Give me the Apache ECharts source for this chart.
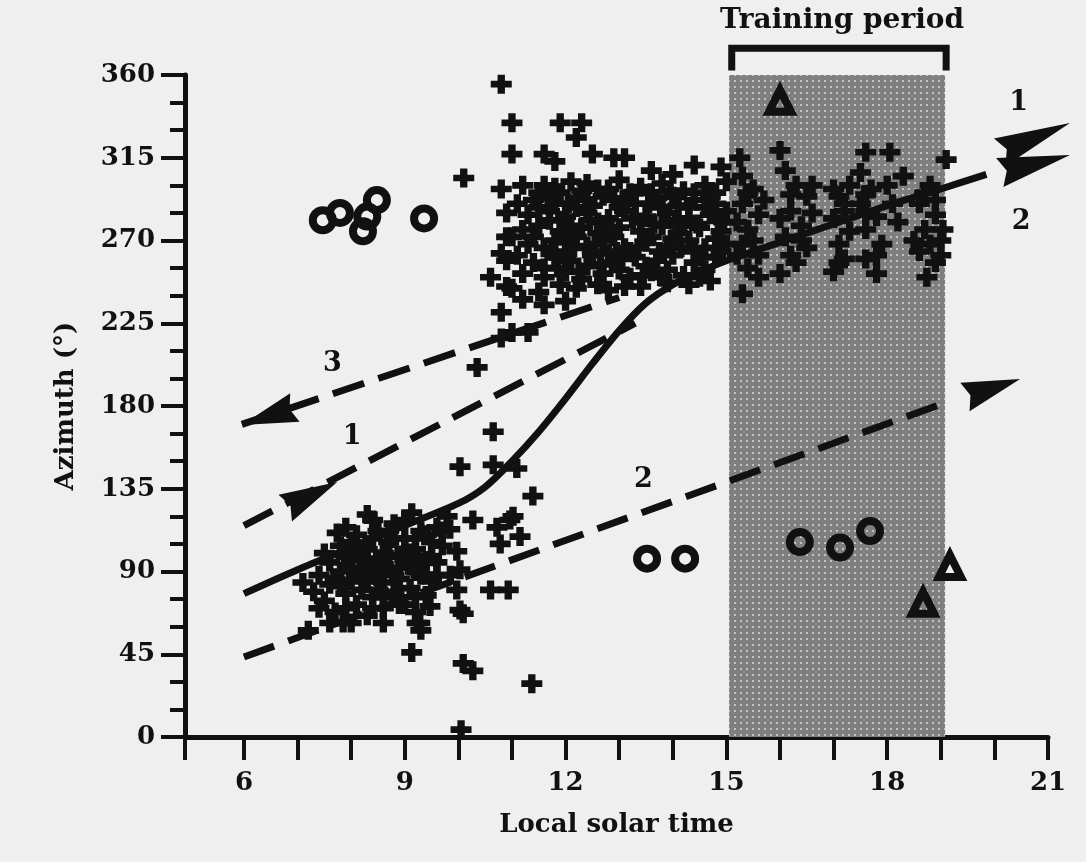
<!DOCTYPE html>
<html>
<head>
<meta charset="utf-8">
<script src="https://cdn.jsdelivr.net/npm/echarts@6/dist/echarts.min.js"></script>
<style>html,body{margin:0;padding:0;background:#efefef;}#c{width:1086px;height:862px;}</style>
</head>
<body>
<div id="c"></div>
<script>
// ---------- data ----------
const xLabelValues = [6, 9, 12, 15, 18, 21];
const xTickValues = [4.9, 6, 7, 8, 9, 10, 11, 12, 13, 14, 15, 16, 17, 18, 19, 20, 21];
const trainingPeriod = [15.05, 19.08];
const bracketLine = [[15.1, 362.5], [15.1, 374.5], [19.1, 374.5], [19.1, 362.5]];

const crosses = [
  // morning cluster
  [7.1,84],[7.3,79],[7.4,88],[7.5,74],[7.6,95],[7.6,83],[7.7,68],[7.8,104],[7.8,90],[7.9,78],
  [8.0,97],[8.0,85],[8.1,110],[8.1,72],[8.2,92],[8.2,80],[8.3,102],[8.3,66],[8.4,88],[8.4,76],
  [8.5,112],[8.5,97],[8.6,84],[8.6,70],[8.7,106],[8.7,92],[8.8,79],[8.8,116],[8.9,99],[8.9,86],
  [9.0,72],[9.0,108],[9.1,93],[9.1,81],[9.2,102],[9.2,68],[9.3,112],[9.3,88],[9.4,96],[9.4,77],
  [9.5,106],[9.5,85],[9.6,95],[9.6,114],[9.0,118],[8.4,118],[7.9,114],[7.5,100],[8.6,62],[8.0,62],
  [9.3,58],[7.6,62],[8.3,121],[9.13,122],[7.74,111],[7.85,62],[7.2,58],[9.13,46],[9.23,62],
  [7.7,86],[7.9,98],[8.1,88],[8.3,95],[8.5,90],[8.5,80],[8.7,98],[8.9,92],[9.1,100],[9.3,95],
  [9.2,108],[9.0,102],[8.8,108],[8.6,100],[8.3,86],[8.1,100],[9.4,110],[9.5,98],[8.9,72],[9.2,76],
  [8.4,70],[7.9,70],[7.4,70],[9.6,88],[9.7,112],[8.7,112],[8.0,106],
  [8.6,94],[8.8,88],[9.0,96],[8.2,96],[8.4,108],[9.2,90],[8.0,92],[7.8,82],[8.6,76],[9.4,88],
  [10.09,67],[10.27,36],[10.09,40],[11.37,29],[10.05,4],[10.03,147],[10.65,166],[10.65,148],
  [11.09,146],[11.39,131],[9.84,113],[10.72,114],[11.02,120],[11.15,109],[10.78,105],[9.97,101],
  [10.03,91],[9.97,80],[10.6,80],[10.93,80],[10.03,69],[9.79,120],[10.27,118],[9.28,62],[8.85,76],
  [9.47,71],[10.96,118],[9.7,104],[9.85,88],
  // transition
  [10.35,201],[10.8,231],[11.0,220],[11.3,220],[10.8,217],
  // midday cluster
  [11.6,300],[12.1,302],[12.6,298],[13.0,303],[13.4,299],[13.8,301],[14.2,297],[14.6,300],[15.0,302],
  [11.4,292],[11.8,290],[12.2,293],[12.5,289],[12.9,292],[13.3,290],[13.7,293],[14.1,289],[14.4,292],[14.8,290],
  [11.3,284],[11.7,286],[12.0,283],[12.4,285],[12.8,282],[13.1,286],[13.5,283],[13.9,285],[14.3,282],[14.7,284],[15.0,286],
  [11.2,276],[11.5,278],[11.9,275],[12.3,277],[12.6,274],[13.0,277],[13.4,275],[13.8,278],[14.1,274],[14.5,277],[14.9,275],
  [11.3,268],[11.6,266],[12.0,269],[12.4,267],[12.7,270],[13.1,266],[13.5,269],[13.9,267],[14.3,270],[14.6,266],[15.0,268],
  [11.4,258],[11.8,261],[12.1,259],[12.5,262],[12.9,258],[13.3,261],[13.7,259],[14.0,262],[14.4,258],[14.8,261],
  [11.2,252],[11.6,250],[12.0,253],[12.3,249],[12.7,252],[13.2,250],[13.6,253],[14.2,251],[14.6,254],
  [11.0,244],[11.5,242],[12.2,244],[12.8,243],[13.4,245],[13.9,247],
  [11.5,296],[11.9,296],[12.3,297],[12.7,294],[13.2,296],[13.6,296],[14.0,294],[14.4,296],[14.8,296],
  [11.5,288],[11.9,281],[12.2,288],[12.6,280],[13.0,288],[13.4,280],[13.8,288],[14.2,278],[14.6,288],[14.95,280],
  [11.4,272],[11.8,270],[12.2,272],[12.5,264],[12.9,272],[13.2,264],[13.6,272],[14.0,271],[14.4,264],[14.8,271],
  [11.6,255],[12.0,262],[12.4,256],[12.8,263],[13.0,254],[13.5,256],[13.9,254],[14.3,246],[14.7,248],
  [11.9,246],[12.6,246],[13.1,245],[11.1,262],[11.1,290],[11.2,300],[10.9,272],
  [11.7,281],[12.1,278],[12.45,281],[12.85,277],[13.25,282],[13.65,279],[14.05,281],[14.45,279],[14.85,282],
  [11.75,264],[12.15,266],[12.55,268],[12.95,264],[13.35,266],[13.75,264],[14.15,266],[14.55,261],[14.9,264],
  [11.85,255],[12.25,253],[12.65,257],[13.05,260],[13.45,251],[13.8,250],[14.5,250],
  [11.7,293],[12.05,290],[12.4,292],[12.8,298],[13.15,293],[13.55,290],[13.95,297],[14.3,288],[14.7,294],
  // outliers above / below
  [10.9,259],[10.6,250],[10.8,263],[11.0,272],[10.9,285],[10.8,298],[11.0,317],[11.0,334],[10.8,355],
  [10.1,304],[11.6,317],[11.8,313],[11.9,334],[12.3,334],[12.2,326],[12.5,317],[12.9,315],[13.1,315],
  [11.8,299],[12.4,301],[13.6,308],[14.0,306],[14.4,311],[14.9,310],[15.25,315],[10.9,245],[11.2,238],[11.6,235],[12.0,237],
  // training period
  [15.3,305],[15.5,298],[15.3,290],[15.6,284],[15.4,276],[15.3,268],[15.6,262],[15.4,255],[15.3,241],[15.7,292],[15.5,270],
  [16.0,319],[16.1,308],[16.3,300],[16.5,294],[16.2,286],[16.4,278],[16.1,272],[16.5,266],[16.3,258],[16.0,252],[16.6,285],[16.2,262],
  [17.0,298],[17.2,290],[17.0,282],[17.3,275],[17.1,268],[17.2,260],[17.0,253],[17.3,300],
  [17.6,318],[17.5,307],[17.7,298],[17.5,290],[17.8,283],[17.6,276],[17.9,268],[17.6,260],[17.8,252],[18.05,318],[18.0,300],
  [18.6,290],[18.9,284],[18.7,276],[19.0,270],[18.6,264],[18.9,258],[18.74,250],[19.04,276],[19.1,314],[18.8,300],[18.5,270],
  [15.2,280],[15.4,296],[15.6,250],[15.2,262],[16.2,295],[16.4,270],[16.6,300],[16.0,282],[17.1,294],[17.2,286],
  [17.1,258],[17.6,295],[17.8,262],[17.6,286],[18.1,290],[18.2,280],[18.9,292],[18.8,268],[19.0,262],[18.7,296],[18.3,305]
];

const circles = [
  [7.47,281],[7.79,285],[8.3,283],[8.48,292],[8.22,275],[9.36,282],
  [13.52,97],[14.23,97],[16.37,106],[17.12,103],[17.68,112]
];

const triangles = [[16.0,346],[19.17,93],[18.67,73]];

const solidLine = [
  [6,78],[7,91],[8,103],[9,115],[10,127],[10.5,136],[11,150],[11.5,166],[12,184],[12.5,203],
  [13,221],[13.5,236],[14,246],[14.5,253],[15,259],[16,269],[17,279],[18,289],[19,298],[19.85,306]
];
const dashed1 = [[6,115],[13.3,225]];
const dashed2 = [[6,43.5],[19.1,182]];
const dashed3 = [[5.96,170],[13.0,239]];

// arrowheads: [tipX, tipY, baseX, baseY]
const arrowHeads = [
  [5.96,169.7,6.95,179.2],
  [7.74,138.7,6.77,124.5],
  [20.48,194.7,19.45,184.9],
  [21.41,333.9,20.1,318],
  [21.41,316.5,20.1,307]
];

const lineLabels = [[20.45,345,'1'],[20.5,280,'2'],[8.02,163,'1'],[13.45,140,'2'],[7.65,203,'3']];

// ---------- chart ----------
const FONT = 'DejaVu Serif';
const INK = '#111111';

function makePattern() {
  const c = document.createElement('canvas');
  c.width = 6; c.height = 6;
  const g = c.getContext('2d');
  g.fillStyle = '#7f7f7f'; g.fillRect(0, 0, 6, 6);
  g.fillStyle = '#c2c2c2'; g.fillRect(2, 2, 2, 2);
  return c;
}

const chart = echarts.init(document.getElementById('c'), null, {renderer: 'canvas'});
const crossPath = 'path://M6.5,0H13.5V6.5H20V13.5H13.5V20H6.5V13.5H0V6.5H6.5Z';

chart.setOption({
  backgroundColor: '#efefef',
  animation: false,
  grid: {left: 185, right: 38, top: 75, bottom: 125, containLabel: false},
  xAxis: {
    type: 'value', min: 4.9, max: 21,
    name: 'Local solar time', nameLocation: 'middle', nameGap: 75,
    nameTextStyle: {fontFamily: FONT, fontWeight: 'bold', fontSize: 26, color: INK},
    axisLine: {onZero: false, lineStyle: {color: INK, width: 5}},
    axisTick: {show: true, customValues: xTickValues, length: 23, lineStyle: {color: INK, width: 4}},
    axisLabel: {customValues: xLabelValues, margin: 33, fontFamily: FONT, fontWeight: 'bold', fontSize: 26, color: INK},
    splitLine: {show: false}
  },
  yAxis: {
    type: 'value', min: 0, max: 360, interval: 45,
    name: 'Azimuth (°)', nameLocation: 'middle', nameGap: 106,
    nameTextStyle: {fontFamily: FONT, fontWeight: 'bold', fontSize: 26, color: INK},
    axisLine: {show: true, onZero: false, lineStyle: {color: INK, width: 5}},
    axisTick: {show: true, length: 24, lineStyle: {color: INK, width: 4}},
    minorTick: {show: true, splitNumber: 3, length: 15, lineStyle: {color: INK, width: 4}},
    axisLabel: {margin: 30, fontFamily: FONT, fontWeight: 'bold', fontSize: 26, color: INK},
    splitLine: {show: false}
  },
  graphic: [{
    type: 'text', x: 842, y: 21, z: 10,
    style: {text: 'Training period', font: 'bold 28px "DejaVu Serif"', fill: INK, textAlign: 'center', textVerticalAlign: 'middle'}
  }],
  series: [
    {
      type: 'scatter', data: [], z: 1, silent: true,
      markArea: {
        silent: true,
        itemStyle: {color: {image: makePattern(), repeat: 'repeat'}, opacity: 1},
        data: [[{xAxis: trainingPeriod[0], yAxis: 0}, {xAxis: trainingPeriod[1], yAxis: 360}]]
      }
    },
    {
      type: 'line', data: bracketLine, z: 5, clip: false, symbol: 'none',
      lineStyle: {color: INK, width: 7, join: 'miter', cap: 'butt'}
    },
    {
      type: 'line', data: solidLine, z: 4, smooth: 0.3, symbol: 'none',
      lineStyle: {color: INK, width: 7}
    },
    {type: 'line', data: dashed1, z: 4, symbol: 'none', lineStyle: {color: INK, width: 7, type: [32, 15]}},
    {type: 'line', data: dashed2, z: 4, symbol: 'none', lineStyle: {color: INK, width: 7, type: [32, 15]}},
    {type: 'line', data: dashed3, z: 4, symbol: 'none', lineStyle: {color: INK, width: 7, type: [33, 15]}},
    {
      type: 'custom', data: arrowHeads, z: 6, clip: false,
      renderItem: function (params, api) {
        const t = api.coord([api.value(0), api.value(1)]);
        const b = api.coord([api.value(2), api.value(3)]);
        const dx = t[0] - b[0], dy = t[1] - b[1];
        const L = Math.hypot(dx, dy) || 1;
        const hw = 15;
        const nx = -dy / L * hw, ny = dx / L * hw;
        const inner = [b[0] + dx * 0.1, b[1] + dy * 0.1];
        return {
          type: 'polygon',
          shape: {points: [t, [b[0] + nx, b[1] + ny], inner, [b[0] - nx, b[1] - ny]]},
          style: {fill: INK}
        };
      }
    },
    {
      type: 'scatter', data: crosses, z: 7, symbol: crossPath, symbolSize: [21, 19],
      itemStyle: {color: INK, opacity: 1}
    },
    {
      type: 'scatter', data: circles, z: 7, symbol: 'circle', symbolSize: 20,
      itemStyle: {color: 'rgba(0,0,0,0)', borderColor: INK, borderWidth: 8, opacity: 1}
    },
    {
      type: 'scatter', data: triangles, z: 7, symbol: 'triangle', symbolSize: 22,
      itemStyle: {color: 'rgba(0,0,0,0)', borderColor: INK, borderWidth: 8, opacity: 1}
    },
    {
      type: 'scatter', data: lineLabels, z: 8, symbolSize: 1, clip: false,
      itemStyle: {color: 'rgba(0,0,0,0)', opacity: 1},
      label: {
        show: true, position: 'inside',
        formatter: function (p) { return p.data[2]; },
        fontFamily: FONT, fontWeight: 'bold', fontSize: 27, color: INK
      }
    }
  ]
});
</script>
</body>
</html>
